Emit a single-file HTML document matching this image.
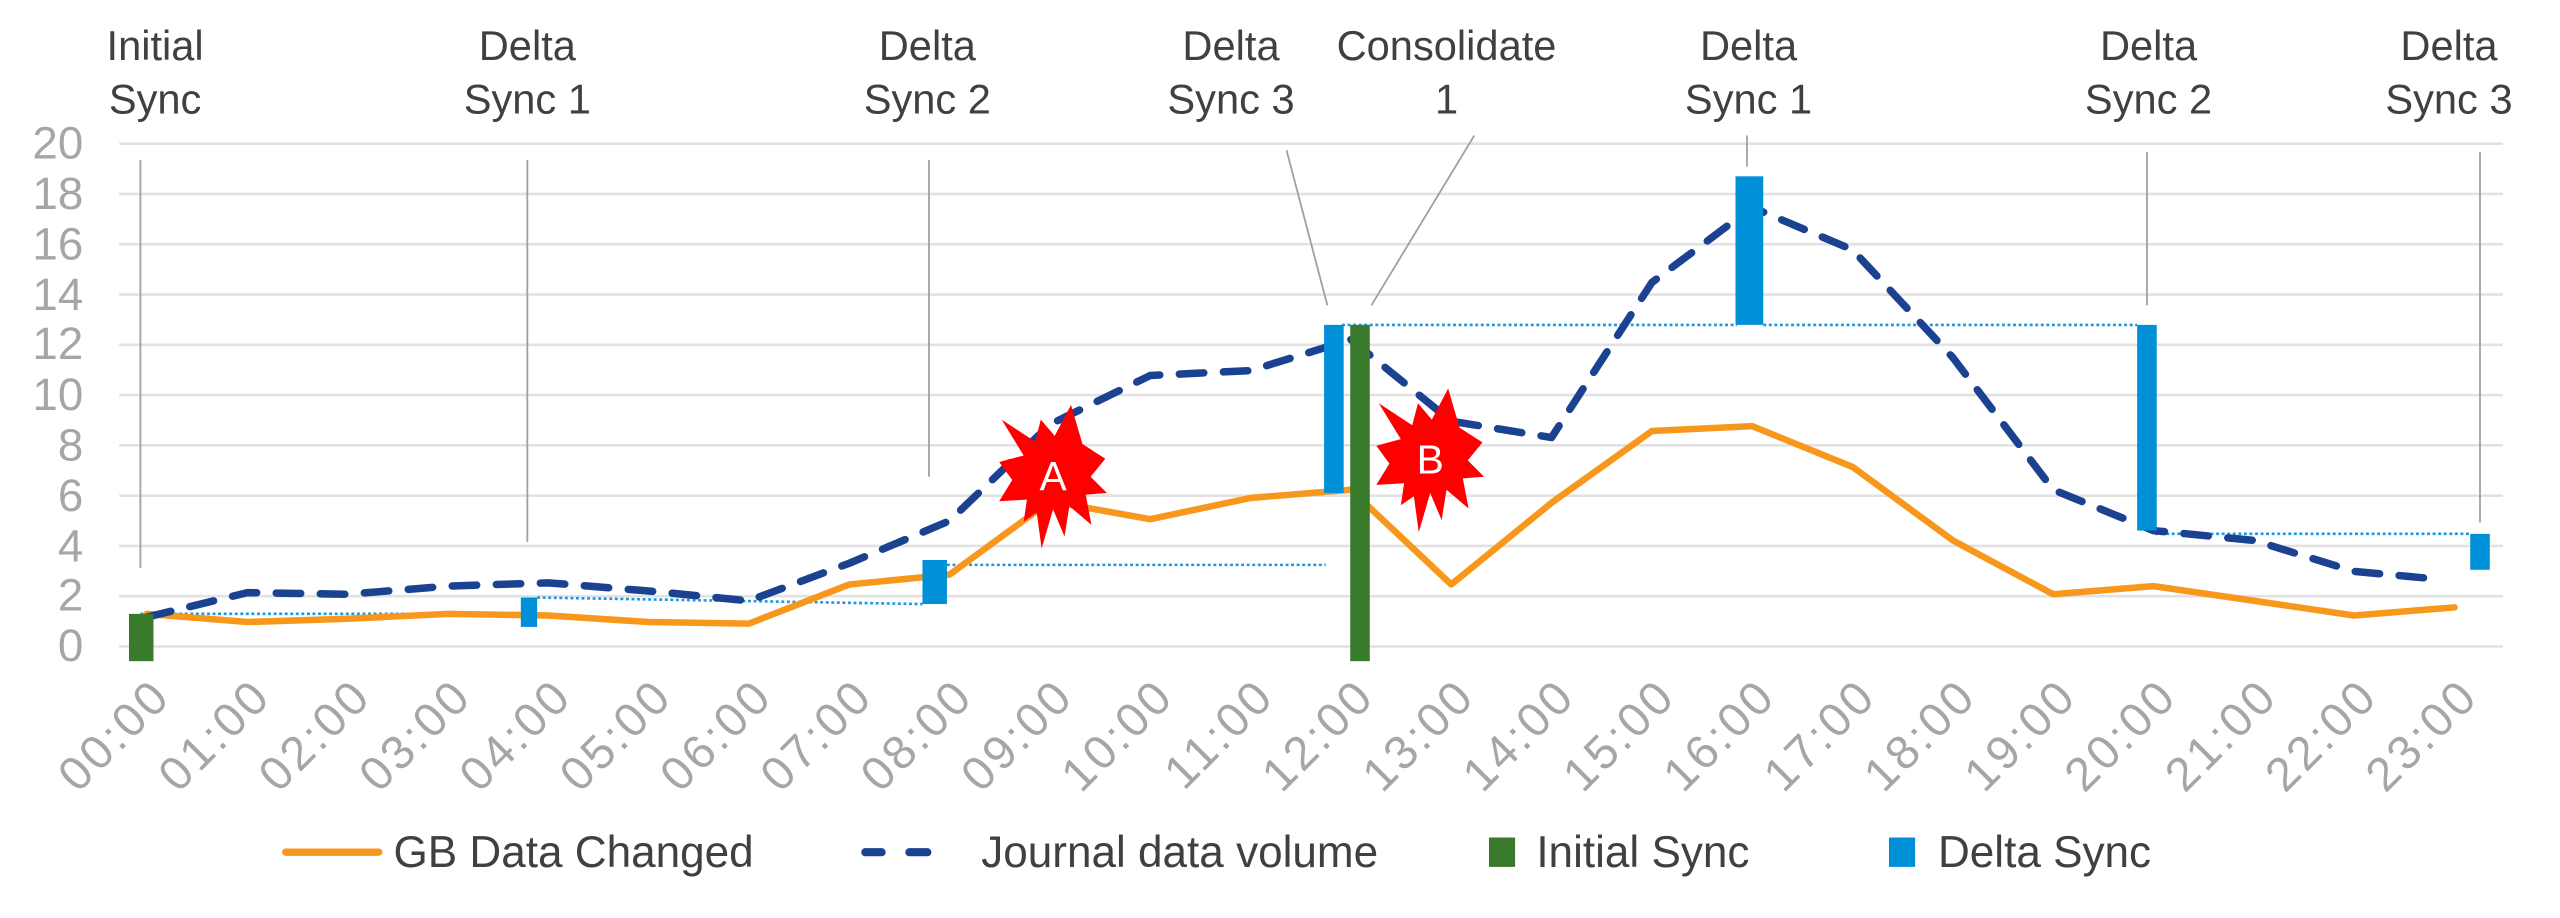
<!DOCTYPE html>
<html><head><meta charset="utf-8"><style>
html,body{margin:0;padding:0;background:#fff;}
svg{display:block;}
text{font-family:"Liberation Sans",sans-serif;}
</style></head><body>
<svg width="2560" height="918" viewBox="0 0 1568 562.3" preserveAspectRatio="none" xmlns="http://www.w3.org/2000/svg">
<rect width="1568" height="562.3" fill="#fff"/>
<g stroke="#e2e2e2" stroke-width="1.6">
<line x1="73" x2="1533" y1="88" y2="88"/>
<line x1="73" x2="1533" y1="118.8" y2="118.8"/>
<line x1="73" x2="1533" y1="149.6" y2="149.6"/>
<line x1="73" x2="1533" y1="180.4" y2="180.4"/>
<line x1="73" x2="1533" y1="211.2" y2="211.2"/>
<line x1="73" x2="1533" y1="242" y2="242"/>
<line x1="73" x2="1533" y1="272.8" y2="272.8"/>
<line x1="73" x2="1533" y1="303.6" y2="303.6"/>
<line x1="73" x2="1533" y1="334.4" y2="334.4"/>
<line x1="73" x2="1533" y1="365.2" y2="365.2"/>
<line x1="73" x2="1533" y1="396" y2="396"/>
</g>
<g fill="#a6a6a6" font-size="28" text-anchor="end">
<text x="51" y="97">20</text><text x="51" y="128">18</text><text x="51" y="159">16</text><text x="51" y="190">14</text><text x="51" y="220">12</text><text x="51" y="251">10</text><text x="51" y="282">8</text><text x="51" y="313">6</text><text x="51" y="344">4</text><text x="51" y="374">2</text><text x="51" y="405">0</text>
</g>
<g stroke="#a0a0a0" stroke-width="1.1" fill="none">
<line x1="86" y1="98" x2="86" y2="348"/>
<line x1="323" y1="98" x2="323" y2="332"/>
<line x1="569" y1="98" x2="569" y2="292"/>
<line x1="788" y1="92" x2="813" y2="187"/>
<line x1="903" y1="83" x2="840" y2="187"/>
<line x1="1070" y1="83" x2="1070" y2="102"/>
<line x1="1315" y1="93" x2="1315" y2="187"/>
<line x1="1519" y1="93" x2="1519" y2="320"/>
</g>
<g stroke="#1a9ae0" stroke-width="1.6" stroke-dasharray="1.8 1.6" fill="none">
<line x1="86" y1="376" x2="320" y2="376"/>
<line x1="329" y1="366" x2="565" y2="370"/>
<line x1="580" y1="346" x2="812" y2="346"/>
<line x1="822" y1="199" x2="1064" y2="199"/>
<line x1="1080" y1="199" x2="1309" y2="199"/>
<line x1="1320" y1="327" x2="1513" y2="327"/>
</g>
<polyline fill="none" stroke="#f7981d" stroke-width="4" stroke-linejoin="round" stroke-linecap="round"
points="90,376 151.5,381 212.9,379 274.4,376 335.8,377 397.3,381 458.7,382 520.2,358 581.6,352 643.1,307 704.5,318 766,305 827.4,300 888.9,358 950.3,308 1011.8,264 1073.2,261 1134.7,286 1196.1,331 1257.6,364 1319,359 1380.5,368 1441.9,377 1503.4,372"/>
<polyline fill="none" stroke="#1b4290" stroke-width="4.6" stroke-dasharray="15 12" stroke-linecap="round" stroke-linejoin="round"
points="90,378 151.5,363 212.9,364 274.4,359 335.8,357 397.3,362 458.7,368 520.2,345 581.6,319 643.1,260 704.5,230 766,227 827.4,208 888.9,258 950.3,268 1011.8,173 1073.2,127 1134.7,153 1196.1,219 1257.6,300 1319,325 1380.5,331 1441.9,350 1496,355"/>
<g fill="#0090d8">
<rect x="319" y="366" width="10" height="18"/>
<rect x="565" y="343" width="15" height="27"/>
<rect x="811" y="199" width="12" height="103"/>
<rect x="1063" y="108" width="17" height="91"/>
<rect x="1309" y="199" width="12" height="126"/>
<rect x="1513" y="327" width="12" height="22"/>
</g>
<g fill="#3a7a2c">
<rect x="79" y="376" width="15" height="29"/>
<rect x="827" y="199" width="12" height="206"/>
</g>
<g>
<polygon fill="#ff0000" points="656,248 663,272 677,281 668,292 678,302 665,303 668.5,321.5 655,310 652,328.6 645,312 638,336 635,314 627,319.5 629,306 612,307 620,294 612,283 627,279 613.5,257 634,270.5 637.5,257 646,267"/>
<text x="645" y="300" font-size="25" fill="#fff" text-anchor="middle">A</text>
</g>
<g transform="translate(231,-10)">
<polygon fill="#ff0000" points="656,248 663,272 677,281 668,292 678,302 665,303 668.5,321.5 655,310 652,328.6 645,312 638,336 635,314 627,319.5 629,306 612,307 620,294 612,283 627,279 613.5,257 634,270.5 637.5,257 646,267"/>
<text x="645" y="300" font-size="25" fill="#fff" text-anchor="middle">B</text>
</g>
<g fill="#404040" font-size="25.5" text-anchor="middle">
<text x="95" y="36.7">Initial</text><text x="95" y="69.4">Sync</text>
<text x="323" y="36.7">Delta</text><text x="323" y="69.4">Sync 1</text>
<text x="568" y="36.7">Delta</text><text x="568" y="69.4">Sync 2</text>
<text x="754" y="36.7">Delta</text><text x="754" y="69.4">Sync 3</text>
<text x="886" y="36.7">Consolidate</text><text x="886" y="69.4">1</text>
<text x="1071" y="36.7">Delta</text><text x="1071" y="69.4">Sync 1</text>
<text x="1316" y="36.7">Delta</text><text x="1316" y="69.4">Sync 2</text>
<text x="1500" y="36.7">Delta</text><text x="1500" y="69.4">Sync 3</text>
</g>
<g fill="#a6a6a6" font-size="29" text-anchor="end" letter-spacing="2">
<text transform="translate(106,428) rotate(-45)">00:00</text>
<text transform="translate(167.5,428) rotate(-45)">01:00</text>
<text transform="translate(228.9,428) rotate(-45)">02:00</text>
<text transform="translate(290.4,428) rotate(-45)">03:00</text>
<text transform="translate(351.8,428) rotate(-45)">04:00</text>
<text transform="translate(413.3,428) rotate(-45)">05:00</text>
<text transform="translate(474.7,428) rotate(-45)">06:00</text>
<text transform="translate(536.2,428) rotate(-45)">07:00</text>
<text transform="translate(597.6,428) rotate(-45)">08:00</text>
<text transform="translate(659.1,428) rotate(-45)">09:00</text>
<text transform="translate(720.5,428) rotate(-45)">10:00</text>
<text transform="translate(782,428) rotate(-45)">11:00</text>
<text transform="translate(843.4,428) rotate(-45)">12:00</text>
<text transform="translate(904.9,428) rotate(-45)">13:00</text>
<text transform="translate(966.3,428) rotate(-45)">14:00</text>
<text transform="translate(1027.8,428) rotate(-45)">15:00</text>
<text transform="translate(1089.2,428) rotate(-45)">16:00</text>
<text transform="translate(1150.7,428) rotate(-45)">17:00</text>
<text transform="translate(1212.1,428) rotate(-45)">18:00</text>
<text transform="translate(1273.6,428) rotate(-45)">19:00</text>
<text transform="translate(1335,428) rotate(-45)">20:00</text>
<text transform="translate(1396.5,428) rotate(-45)">21:00</text>
<text transform="translate(1457.9,428) rotate(-45)">22:00</text>
<text transform="translate(1519.4,428) rotate(-45)">23:00</text>
</g>
<line x1="175" y1="522" x2="232" y2="522" stroke="#f7981d" stroke-width="4.5" stroke-linecap="round"/>
<line x1="530" y1="522" x2="540" y2="522" stroke="#1b4290" stroke-width="5" stroke-linecap="round"/>
<line x1="557" y1="522" x2="568" y2="522" stroke="#1b4290" stroke-width="5" stroke-linecap="round"/>
<rect x="912" y="513" width="16" height="18" fill="#3a7a2c"/>
<rect x="1157" y="513" width="16" height="18" fill="#0090d8"/>
<g fill="#404040" font-size="27">
<text x="241" y="531">GB Data Changed</text>
<text x="601" y="531">Journal data volume</text>
<text x="941" y="531">Initial Sync</text>
<text x="1187" y="531">Delta Sync</text>
</g>
</svg>
</body></html>
